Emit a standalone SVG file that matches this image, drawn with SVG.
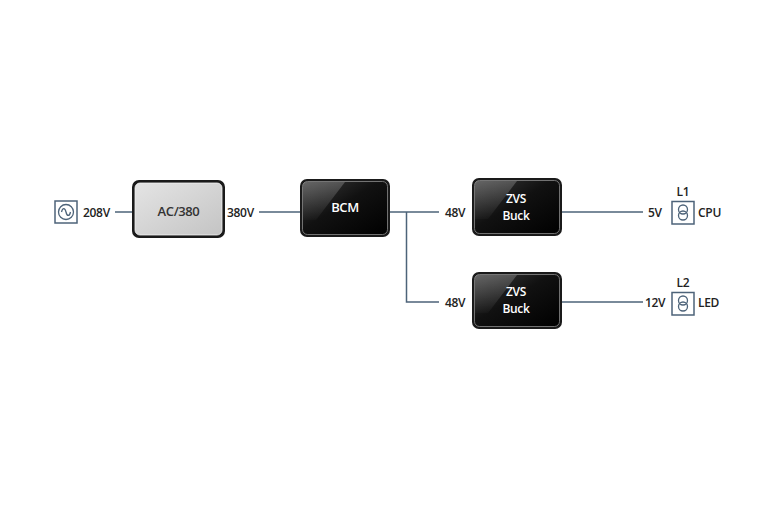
<svg xmlns="http://www.w3.org/2000/svg" width="767" height="511" viewBox="0 0 767 511">
<defs>
<linearGradient id="gDark" x1="0" y1="0" x2="1" y2="1">
<stop offset="0" stop-color="#3a3a3a"/>
<stop offset="0.45" stop-color="#111"/>
<stop offset="1" stop-color="#000"/>
</linearGradient>
<linearGradient id="gLight" x1="0" y1="0" x2="1" y2="1">
<stop offset="0" stop-color="#e4e4e4"/>
<stop offset="0.5" stop-color="#d4d4d4"/>
<stop offset="1" stop-color="#c4c4c4"/>
</linearGradient>
<linearGradient id="gGloss" x1="0" y1="0" x2="0" y2="1">
<stop offset="0" stop-color="#ffffff" stop-opacity="0.22"/>
<stop offset="1" stop-color="#ffffff" stop-opacity="0.02"/>
</linearGradient>
</defs>
<style>
.outer{fill:#1a1a1a;}
.innerD{fill:url(#gDark);stroke:#8a8a8a;stroke-width:0.8;}
.innerL{fill:url(#gLight);stroke:#f4f4f4;stroke-width:0.8;}
.wire{fill:none;stroke:#4d6379;stroke-width:1.5;}
.icon{fill:#fff;stroke:#4d6379;stroke-width:1.5;}
.lbl{font-family:"Open Sans","DejaVu Sans",sans-serif;font-weight:600;font-size:12px;letter-spacing:-0.3px;fill:#222;}
.wt{font-family:"Open Sans","DejaVu Sans",sans-serif;font-weight:600;font-size:13px;letter-spacing:-0.4px;fill:#fff;text-anchor:middle;}
.wt2{font-family:"Open Sans","DejaVu Sans",sans-serif;font-weight:600;font-size:12px;letter-spacing:-0.3px;fill:#fff;text-anchor:middle;}
.dt{font-family:"Open Sans","DejaVu Sans",sans-serif;font-weight:600;font-size:13px;letter-spacing:-0.4px;fill:#333;text-anchor:middle;}
</style>
<rect width="767" height="511" fill="#fff"/>
<g id="connectors">
<line class="wire" x1="115" y1="212" x2="133" y2="212"/>
<line class="wire" x1="259" y1="212" x2="301" y2="212"/>
<polyline class="wire" points="390,212 439,212"/>
<polyline class="wire" points="406.5,212 406.5,302 439,302"/>
<line class="wire" x1="561" y1="212" x2="643" y2="212"/>
<line class="wire" x1="561" y1="302" x2="643" y2="302"/>
</g>
<g id="source">
<rect class="icon" x="55" y="201" width="22" height="22"/>
<circle cx="66" cy="212" r="7.5" fill="none" stroke="#4d6379" stroke-width="1.3"/>
<path d="M61.5,212 C62.5,207.5 65,207.5 66,212 C67,216.5 69.5,216.5 70.5,212" fill="none" stroke="#4d6379" stroke-width="1.3"/>
<text class="lbl" x="83" y="216.5">208V</text>
</g>
<g id="ac380">
<rect class="outer" x="132" y="180" width="93" height="58" rx="7"/>
<rect class="innerL" x="135" y="183" width="87" height="52" rx="5"/>
<text class="dt" x="178.5" y="216">AC/380</text>
<text class="lbl" x="227" y="216.5">380V</text>
</g>
<g id="bcm">
<rect class="outer" x="300" y="179" width="90" height="58" rx="7"/>
<rect class="innerD" x="302.5" y="181.5" width="85" height="53" rx="5"/>
<path d="M303,186 Q303,182 307,182 L345,182 L316,220 L303,220 Z" fill="url(#gGloss)"/>
<text class="wt" x="345" y="211.5">BCM</text>
</g>
<g id="zvs1">
<rect class="outer" x="472" y="178" width="90" height="58" rx="7"/>
<rect class="innerD" x="474.5" y="180.5" width="85" height="53" rx="5"/>
<path d="M475,185 Q475,181 479,181 L517,181 L488,219 L475,219 Z" fill="url(#gGloss)"/>
<text class="wt2"><tspan x="516" y="203">ZVS</tspan><tspan x="516" y="219.5">Buck</tspan></text>
<text class="lbl" x="445" y="216.5">48V</text>
</g>
<g id="zvs2">
<rect class="outer" x="472" y="272" width="90" height="57" rx="7"/>
<rect class="innerD" x="474.5" y="274.5" width="85" height="52" rx="5"/>
<path d="M475,279 Q475,275 479,275 L517,275 L488,313 L475,313 Z" fill="url(#gGloss)"/>
<text class="wt2"><tspan x="516" y="296">ZVS</tspan><tspan x="516" y="312.5">Buck</tspan></text>
<text class="lbl" x="445" y="306.5">48V</text>
</g>
<g id="load1">
<text class="lbl" x="648" y="216.5">5V</text>
<rect class="icon" x="672" y="201.5" width="22" height="22.5"/>
<circle cx="683" cy="209.5" r="4.5" fill="none" stroke="#4d6379" stroke-width="1.3"/>
<circle cx="683" cy="215.5" r="4.5" fill="none" stroke="#4d6379" stroke-width="1.3"/>
<text class="lbl" x="683" y="196" text-anchor="middle">L1</text>
<text class="lbl" x="698" y="216.5">CPU</text>
</g>
<g id="load2">
<text class="lbl" x="645" y="306.5">12V</text>
<rect class="icon" x="672" y="292.5" width="22" height="22.5"/>
<circle cx="683" cy="300.5" r="4.5" fill="none" stroke="#4d6379" stroke-width="1.3"/>
<circle cx="683" cy="306.5" r="4.5" fill="none" stroke="#4d6379" stroke-width="1.3"/>
<text class="lbl" x="683" y="287" text-anchor="middle">L2</text>
<text class="lbl" x="698" y="306.5">LED</text>
</g>
</svg>
